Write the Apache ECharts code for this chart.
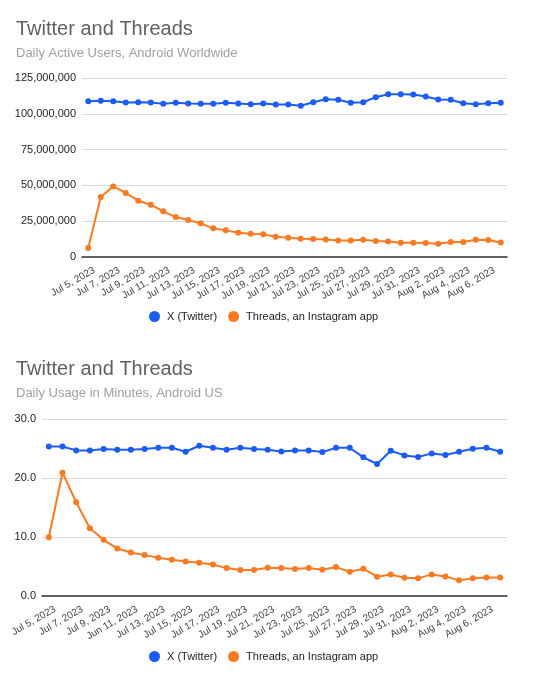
<!DOCTYPE html>
<html>
<head>
<meta charset="utf-8">
<script src="https://cdn.jsdelivr.net/npm/echarts@6/dist/echarts.min.js"></script>
<style>
html,body{margin:0;padding:0;background:#fff;}
#c{width:550px;height:680px;}
</style>
</head>
<body>
<div id="c"></div>
<script>
// ---- Data ----
const categoriesTop = ["Jul 5, 2023","Jul 6, 2023","Jul 7, 2023","Jul 8, 2023","Jul 9, 2023","Jul 10, 2023","Jul 11, 2023","Jul 12, 2023","Jul 13, 2023","Jul 14, 2023","Jul 15, 2023","Jul 16, 2023","Jul 17, 2023","Jul 18, 2023","Jul 19, 2023","Jul 20, 2023","Jul 21, 2023","Jul 22, 2023","Jul 23, 2023","Jul 24, 2023","Jul 25, 2023","Jul 26, 2023","Jul 27, 2023","Jul 28, 2023","Jul 29, 2023","Jul 30, 2023","Jul 31, 2023","Aug 1, 2023","Aug 2, 2023","Aug 3, 2023","Aug 4, 2023","Aug 5, 2023","Aug 6, 2023","Aug 7, 2023"];
const categoriesBottom = ["Jul 5, 2023","Jul 6, 2023","Jul 7, 2023","Jul 8, 2023","Jul 9, 2023","Jul 10, 2023","Jun 11, 2023","Jul 12, 2023","Jul 13, 2023","Jul 14, 2023","Jul 15, 2023","Jul 16, 2023","Jul 17, 2023","Jul 18, 2023","Jul 19, 2023","Jul 20, 2023","Jul 21, 2023","Jul 22, 2023","Jul 23, 2023","Jul 24, 2023","Jul 25, 2023","Jul 26, 2023","Jul 27, 2023","Jul 28, 2023","Jul 29, 2023","Jul 30, 2023","Jul 31, 2023","Aug 1, 2023","Aug 2, 2023","Aug 3, 2023","Aug 4, 2023","Aug 5, 2023","Aug 6, 2023","Aug 7, 2023"];

// Daily active users (Android worldwide)
const dauTwitter = [108800000,109100000,108800000,107900000,108100000,107900000,107000000,107700000,107200000,107000000,107000000,107700000,107200000,106700000,107200000,106500000,106500000,105600000,108100000,110200000,109800000,107700000,108100000,111600000,113700000,113700000,113500000,112100000,110000000,109800000,107400000,106700000,107400000,107700000];
const dauThreads = [6300000,41900000,49300000,44700000,39300000,36500000,31900000,27900000,25800000,23500000,20000000,18600000,17000000,16300000,15800000,14200000,13500000,12800000,12600000,12300000,11600000,11600000,12100000,11200000,10900000,10000000,10000000,9800000,9300000,10500000,10500000,12100000,11900000,10200000];

// Daily usage in minutes (Android US)
const minTwitter = [25.35,25.35,24.68,24.68,24.9,24.79,24.79,24.9,25.13,25.13,24.45,25.46,25.13,24.79,25.13,24.9,24.79,24.5,24.68,24.68,24.39,25.13,25.13,23.5,22.37,24.62,23.83,23.55,24.17,23.89,24.45,24.96,25.13,24.45];
const minThreads = [9.97,20.9,15.89,11.49,9.52,8.06,7.38,6.93,6.48,6.14,5.86,5.63,5.35,4.73,4.39,4.39,4.79,4.73,4.56,4.73,4.45,4.9,4.11,4.62,3.27,3.66,3.1,2.99,3.66,3.32,2.65,2.99,3.15,3.15];

const seriesNames = ["X (Twitter)", "Threads, an Instagram app"];
const titles = ["Twitter and Threads", "Twitter and Threads"];
const subtitles = ["Daily Active Users, Android Worldwide", "Daily Usage in Minutes, Android US"];

// ---- Styles ----
const BLUE = '#1b5cf6';
const ORANGE = '#f87a22';
const FONT = 'Liberation Sans, Arial, sans-serif';

const chart = echarts.init(document.getElementById('c'), null, {renderer: 'canvas'});

function xAxis(gridIndex, cats) {
  return {
    type: 'category', gridIndex, data: cats, boundaryGap: true,
    axisLine: {show: true, lineStyle: {color: '#333', width: 1.5}},
    axisTick: {show: false},
    axisLabel: {interval: 1, rotate: 30, fontSize: 10, color: '#444', fontFamily: FONT,
                margin: 16, padding: [0, -7, 0, 0]}
  };
}
function yAxis(gridIndex, max, interval, fmt) {
  return {
    type: 'value', gridIndex, min: 0, max, interval,
    axisLine: {show: false}, axisTick: {show: false},
    splitLine: {lineStyle: {color: '#d9d9d9', width: 1}},
    axisLabel: {fontSize: 11, color: '#222', fontFamily: FONT, margin: 6, formatter: fmt}
  };
}
function line(name, data, color, idx) {
  return {
    name, type: 'line', data, xAxisIndex: idx, yAxisIndex: idx,
    symbol: 'circle', symbolSize: 6, showSymbol: true,
    lineStyle: {color, width: 2}, itemStyle: {color},
    animation: false
  };
}
function legend(top, names) {
  return {data: names, top, left: 149, padding: 0, icon: 'circle', itemWidth: 11, itemHeight: 11, itemGap: 11,
          textStyle: {fontSize: 11, color: '#222', fontFamily: FONT, padding: [0, 0, 0, 2]},
          formatter: n => n.trim()};
}

chart.setOption({
  animation: false,
  title: [
    {text: titles[0], left: 16, top: 19, padding: 0, textStyle: {fontSize: 20, fontWeight: 'normal', color: '#606060', fontFamily: FONT}},
    {text: subtitles[0], left: 16, top: 47, padding: 0, textStyle: {fontSize: 13, fontWeight: 'normal', color: '#a0a0a0', fontFamily: FONT}},
    {text: titles[1], left: 16, top: 359, padding: 0, textStyle: {fontSize: 20, fontWeight: 'normal', color: '#606060', fontFamily: FONT}},
    {text: subtitles[1], left: 16, top: 387, padding: 0, textStyle: {fontSize: 13, fontWeight: 'normal', color: '#a0a0a0', fontFamily: FONT}}
  ],
  legend: [
    legend(311, seriesNames),
    legend(651, seriesNames.map(n => n + ' '))
  ],
  grid: [
    {left: 82, right: 43, top: 78, height: 179},
    {left: 42, right: 43, top: 419, height: 177}
  ],
  xAxis: [xAxis(0, categoriesTop), xAxis(1, categoriesBottom)],
  yAxis: [
    yAxis(0, 125000000, 25000000, v => v.toLocaleString('en-US')),
    yAxis(1, 30, 10, v => v.toFixed(1))
  ],
  series: [
    line(seriesNames[0], dauTwitter, BLUE, 0),
    line(seriesNames[1], dauThreads, ORANGE, 0),
    line(seriesNames[0] + ' ', minTwitter, BLUE, 1),
    line(seriesNames[1] + ' ', minThreads, ORANGE, 1)
  ]
});
</script>
</body>
</html>
